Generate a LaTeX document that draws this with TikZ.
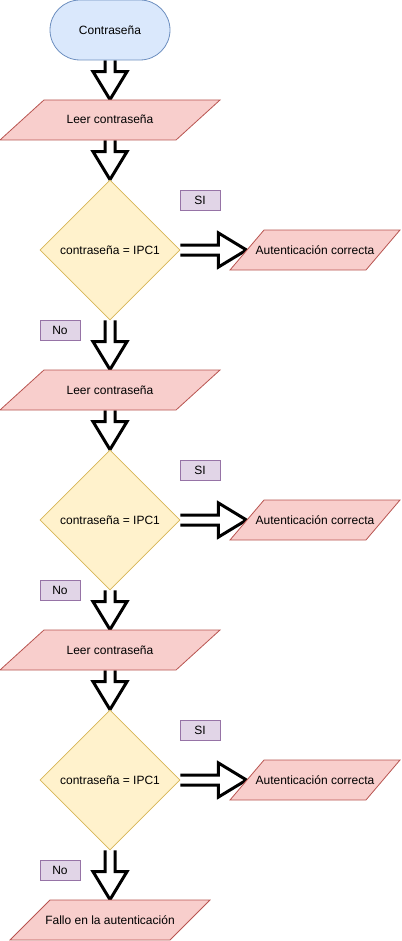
\documentclass[tikz,border=0pt]{standalone}
\usepackage{fontspec}
\setmainfont{Liberation Sans}
\usepackage{xcolor}
\usepackage{tikz}
\usetikzlibrary{shapes.geometric,calc,backgrounds}

\definecolor{startfill}{HTML}{DAE8FC}
\definecolor{startline}{HTML}{6C8EBF}
\definecolor{iofill}{HTML}{F8CECC}
\definecolor{ioline}{HTML}{B85450}
\definecolor{testfill}{HTML}{FFF2CC}
\definecolor{testline}{HTML}{D6B656}
\definecolor{tagfill}{HTML}{E1D5E7}
\definecolor{tagline}{HTML}{9673A6}

% hollow block arrow from #1 to #2
\newcommand\blockarrow[2]{%
  \path (#1) coordinate (ba-s) (#2) coordinate (ba-e);
  \coordinate (ba-h) at ($(ba-e)!28pt!(ba-s)$);
  \filldraw[flexarr] ($(ba-s)!5pt!90:(ba-e)$) -- ($(ba-h)!5pt!-90:(ba-s)$)
    -- ($(ba-h)!17pt!-90:(ba-s)$) -- (ba-e) -- ($(ba-h)!17pt!90:(ba-s)$)
    -- ($(ba-h)!5pt!90:(ba-s)$) -- ($(ba-s)!5pt!-90:(ba-e)$);}

\begin{document}
\begin{tikzpicture}[
  x=1pt, y=-1pt,
  every node/.style={font=\fontsize{12}{14}\selectfont, inner sep=0pt},
  terminal/.style={draw=startline, fill=startfill, line width=0.8pt,
    rounded corners=30pt, minimum width=120pt, minimum height=60pt},
  % negative xsep lets the text run over the slanted ends
  datain/.style={draw=ioline, fill=iofill, line width=0.8pt, trapezium,
    trapezium stretches body, text height=10pt, text depth=2pt,
    inner xsep=-45pt, inner ysep=14pt},
  test/.style={draw=testline, fill=testfill, line width=0.8pt, diamond,
    aspect=1, minimum width=140pt, minimum height=140pt},
  tag/.style={draw=tagline, fill=tagfill, line width=0.8pt,
    minimum width=40pt, minimum height=20pt},
  flexarr/.style={draw=black, fill=white, line width=3pt, line join=miter}
]
  \useasboundingbox (0,0) rectangle (401,941);

  \node[terminal] (start) at (110,30) {Contraseña};
  \node[datain, minimum width=220pt, trapezium left angle=42.3,
    trapezium right angle=137.7] (read1) at (110,120) {Leer contraseña};

  \node[test] (cond1) at (110,250) {contraseña = IPC1};
  \node[tag] (si1) at (200,200) {SI};
  \node[datain, minimum width=170pt, trapezium left angle=49.6,
    trapezium right angle=130.4] (ok1) at (315,250) {Autenticación correcta};
  \node[tag] (no1) at (60,330) {No};
  \node[datain, minimum width=220pt, trapezium left angle=42.3,
    trapezium right angle=137.7] (read2) at (110,390) {Leer contraseña};

  \node[test] (cond2) at (110,520) {contraseña = IPC1};
  \node[tag] (si2) at (200,470) {SI};
  \node[datain, minimum width=170pt, trapezium left angle=49.6,
    trapezium right angle=130.4] (ok2) at (315,520) {Autenticación correcta};
  \node[tag] (no2) at (60,590) {No};
  \node[datain, minimum width=220pt, trapezium left angle=42.3,
    trapezium right angle=137.7] (read3) at (110,650) {Leer contraseña};

  \node[test] (cond3) at (110,780) {contraseña = IPC1};
  \node[tag] (si3) at (200,730) {SI};
  \node[datain, minimum width=170pt, trapezium left angle=49.6,
    trapezium right angle=130.4] (ok3) at (315,780) {Autenticación correcta};
  \node[tag] (no3) at (60,870) {No};
  \node[datain, minimum width=200pt, trapezium left angle=45,
    trapezium right angle=135] (fail) at (110,920) {Fallo en la autenticación};

  \begin{scope}[on background layer]
    \blockarrow{start.south}{read1.north}
    \blockarrow{read1.south}{cond1.north}
    \blockarrow{cond1.east}{ok1.left side}
    \blockarrow{cond1.south}{read2.north}
    \blockarrow{read2.south}{cond2.north}
    \blockarrow{cond2.east}{ok2.left side}
    \blockarrow{cond2.south}{read3.north}
    \blockarrow{read3.south}{cond3.north}
    \blockarrow{cond3.east}{ok3.left side}
    \blockarrow{cond3.south}{fail.north}
  \end{scope}
\end{tikzpicture}
\end{document}
